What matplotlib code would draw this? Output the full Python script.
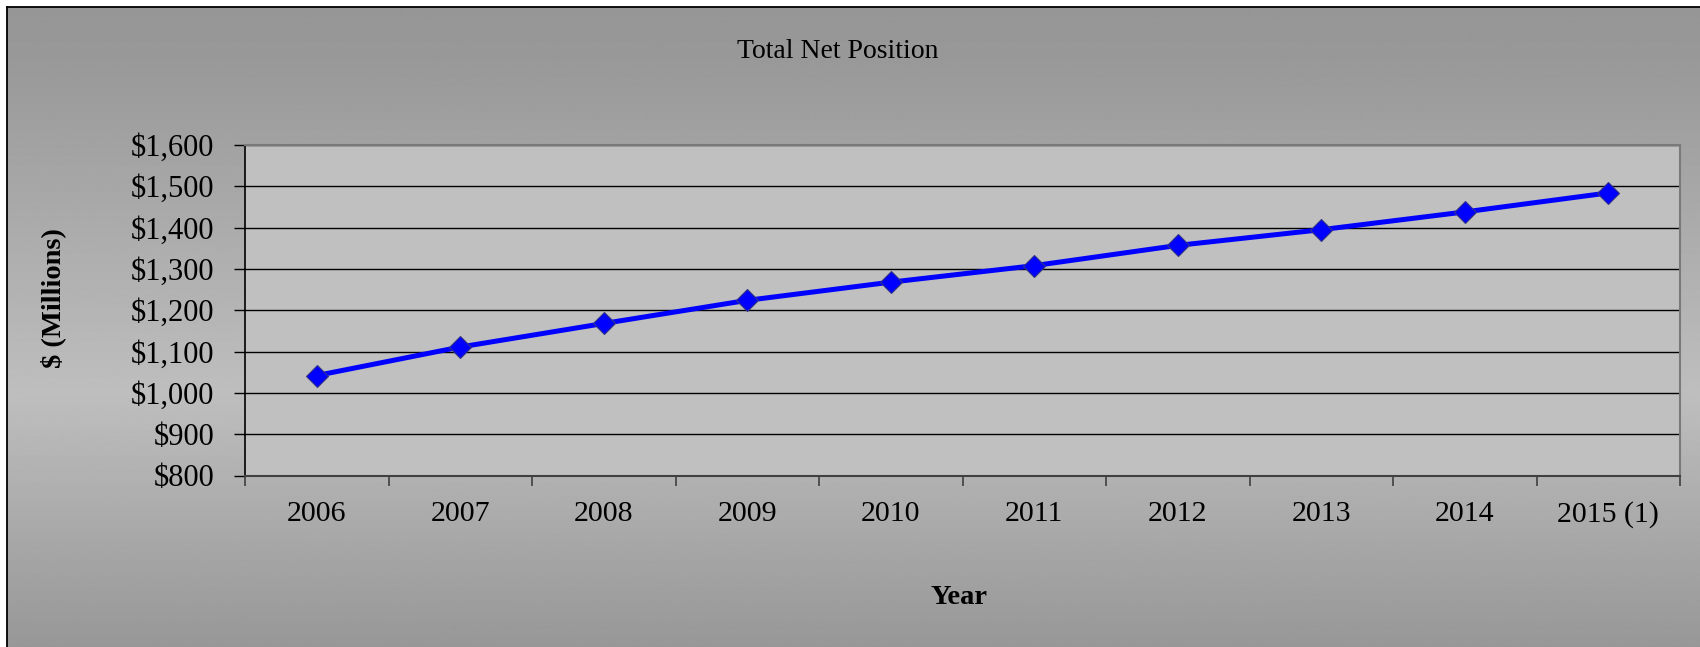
import numpy as np
import matplotlib
matplotlib.use("Agg")
import matplotlib.pyplot as plt
from matplotlib.lines import Line2D
from matplotlib.ticker import FuncFormatter

# Data
years = ["2006", "2007", "2008", "2009", "2010", "2011", "2012", "2013", "2014", "2015 (1)"]
net_position = [1042, 1111, 1168, 1224, 1268, 1308, 1357, 1395, 1438, 1484]
y_ticks = [800, 900, 1000, 1100, 1200, 1300, 1400, 1500, 1600]

W, H, DPI = 1700, 647, 100
plt.rcParams["font.family"] = ["Liberation Serif", "DejaVu Serif"]

fig = plt.figure(figsize=(W / DPI, H / DPI), dpi=DPI)
fig.patch.set_facecolor("white")

# Chart-area vertical gradient (dark at top and bottom, light in the middle)
bg = fig.add_axes([6.5 / W, 0, 1 - 6.5 / W, 1 - 6.5 / H], zorder=-5)
rows = np.arange(H)
stops_y = [0, 50, 390, 647]
stops_v = [150, 152, 190, 151]
vals = np.interp(rows, stops_y, stops_v) / 255.0
grad = np.repeat(vals[:, None], 2, axis=1)
bg.imshow(grad, cmap="gray", vmin=0, vmax=1, aspect="auto",
          extent=[0, 1, 0, 1], origin="upper", interpolation="bilinear")
bg.set_axis_off()

# Outer frame lines (left and top)
fig.add_artist(Line2D([6.5 / W, 6.5 / W], [0, 1 - 6.5 / H], color="black", lw=1.3,
                      transform=fig.transFigure))
fig.add_artist(Line2D([6.5 / W, 1], [1 - 6.5 / H, 1 - 6.5 / H], color="black", lw=1.3,
                      transform=fig.transFigure))

left, right, top, bottom = 245 / W, 1680 / W, 1 - 145 / H, 1 - 475.5 / H
ax = fig.add_axes([left, bottom, right - left, top - bottom])
ax.set_facecolor("#c0c0c0")

x = np.arange(len(years))
ax.plot(x, net_position, color="#0000ff", lw=3.6, marker="D", markersize=11.5,
        markerfacecolor="#0000ff", markeredgecolor="#333388", markeredgewidth=0.8,
        zorder=3)

ax.set_xlim(-0.5, len(years) - 0.5)
ax.set_ylim(800, 1600)
ax.set_yticks(y_ticks)
ax.yaxis.set_major_formatter(FuncFormatter(lambda v, p: f"${v:,.0f}"))
ax.yaxis.grid(True, color="black", lw=1.0)
ax.set_axisbelow(True)

# Category ticks between labels, labels centred on categories
ax.set_xticks(np.arange(-0.5, len(years), 1.0))
ax.set_xticklabels([])
ax.set_xticks(x, minor=True)
ax.set_xticklabels(years, minor=True)
ax.tick_params(axis="x", which="major", length=7, width=1.2, color="#404040", direction="out")
ax.tick_params(axis="x", which="minor", length=0, pad=18.5, labelsize=21.5)
ax.tick_params(axis="y", length=8, width=1.0, color="black", direction="out", pad=14,
               labelsize=22)

for side in ["top", "right"]:
    ax.spines[side].set_color("#7a7a7a")
    ax.spines[side].set_linewidth(1.5)
ax.spines["left"].set_color("black")
ax.spines["left"].set_linewidth(1.2)
ax.spines["bottom"].set_color("#404040")
ax.spines["bottom"].set_linewidth(1.5)

fig.text(838 / W, 1 - 51 / H, "Total Net Position", ha="center", va="center", fontsize=20)
fig.text(959 / W, 1 - 598 / H, "Year", ha="center", va="center", fontsize=20.5,
         fontweight="bold")
fig.text(53 / W, 1 - 298 / H, "$ (Millions)", ha="center", va="center", fontsize=20.5,
         fontweight="bold", rotation=90)

fig.savefig("out.png", dpi=DPI, facecolor=fig.get_facecolor())
